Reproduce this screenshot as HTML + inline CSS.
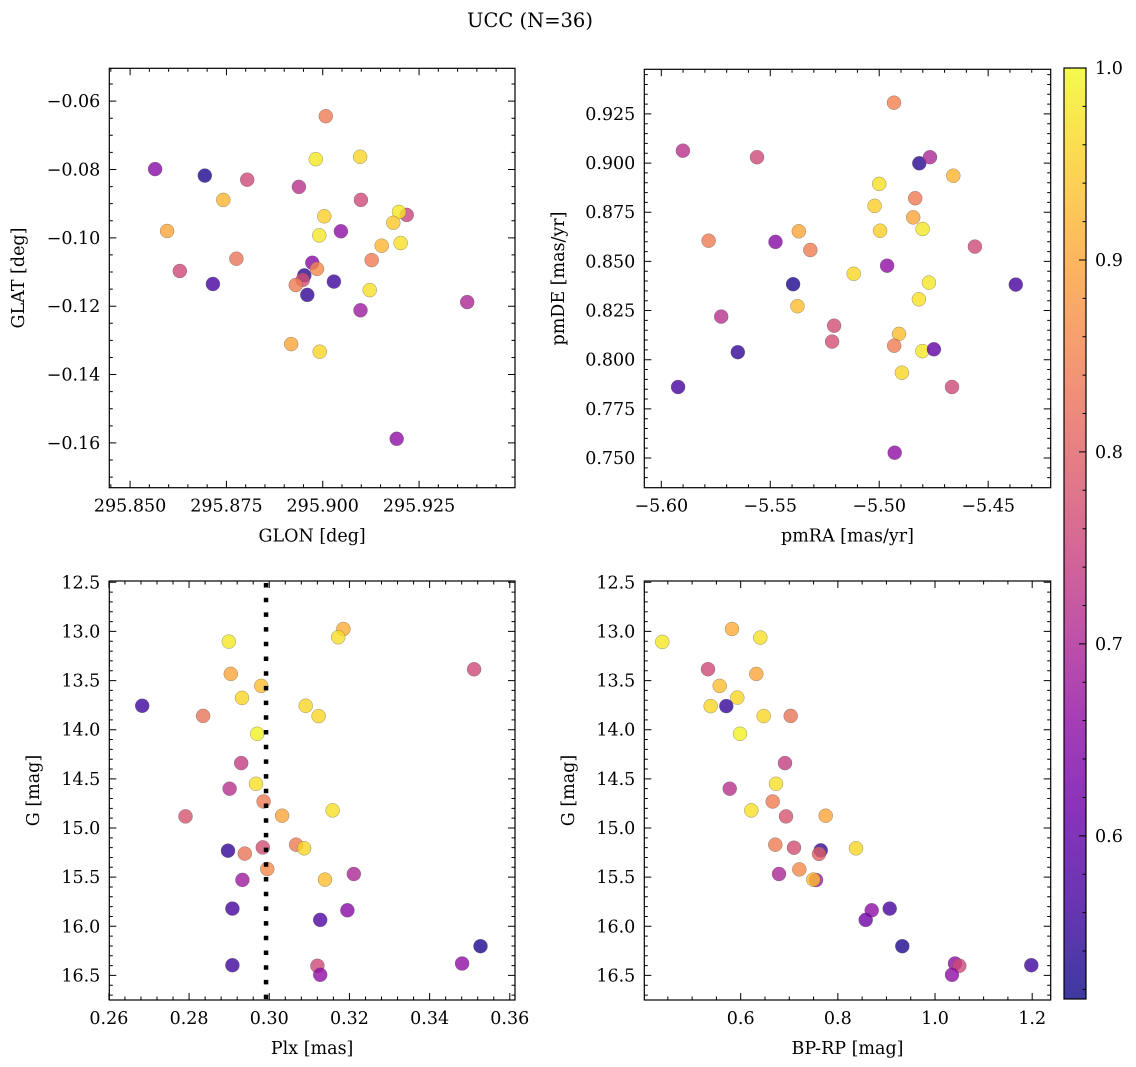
<!DOCTYPE html>
<html><head><meta charset="utf-8"><style>
html,body{margin:0;padding:0;background:#fff;}
svg{display:block;font-family:"DejaVu Serif","Liberation Serif",serif;}
</style></head>
<body>
<svg id="fig" width="1136" height="1067" viewBox="0 0 1136 1067" xmlns="http://www.w3.org/2000/svg">
<defs>
<linearGradient id="plasmaGrad" x1="0" y1="1" x2="0" y2="0">
<stop offset="0" stop-color="#0d0887"/><stop offset="0.1" stop-color="#41049d"/><stop offset="0.2" stop-color="#6a00a8"/><stop offset="0.3" stop-color="#8f0da4"/><stop offset="0.4" stop-color="#b12a90"/><stop offset="0.5" stop-color="#cc4778"/><stop offset="0.6" stop-color="#e16462"/><stop offset="0.7" stop-color="#f2844b"/><stop offset="0.8" stop-color="#fca636"/><stop offset="0.9" stop-color="#fcce25"/><stop offset="1" stop-color="#f0f921"/>
</linearGradient>
</defs>
<text x="530" y="27" font-size="19.5" text-anchor="middle">UCC (N=36)</text>
</svg>
<script>
// ---- data ----
const glon = [295.8565,295.8694,295.8804,295.8938,295.8742,295.8596,295.8629,295.8715,295.8776,295.9008,295.8982,295.9097,295.9099,295.9004,295.8991,295.9047,295.9218,295.9198,295.9183,295.9202,295.9153,295.9127,295.8973,295.8985,295.8952,295.8948,295.8930,295.8960,295.9029,295.9122,295.9098,295.8918,295.8992,295.9192,295.9375];
const glat = [-0.0799,-0.0818,-0.0830,-0.0851,-0.0889,-0.0980,-0.1097,-0.1135,-0.1061,-0.0644,-0.0770,-0.0763,-0.0889,-0.0937,-0.0993,-0.0981,-0.0933,-0.0924,-0.0956,-0.1015,-0.1023,-0.1065,-0.1073,-0.1091,-0.1110,-0.1123,-0.1138,-0.1167,-0.1128,-0.1153,-0.1212,-0.1311,-0.1333,-0.1588,-0.1188];
const prob1 = [0.65,0.53,0.76,0.72,0.92,0.90,0.76,0.57,0.83,0.84,0.98,0.96,0.76,0.95,0.98,0.66,0.75,0.98,0.94,0.97,0.92,0.84,0.65,0.86,0.54,0.77,0.84,0.55,0.56,0.97,0.68,0.90,0.96,0.66,0.70];

const pmra = [-5.5901,-5.5561,-5.4932,-5.4816,-5.4767,-5.4660,-5.5000,-5.5021,-5.4835,-5.4844,-5.4801,-5.4996,-5.5369,-5.5316,-5.5783,-5.5476,-5.4561,-5.4964,-5.5117,-5.5395,-5.4373,-5.4772,-5.4818,-5.5375,-5.5725,-5.5207,-5.5216,-5.4909,-5.4931,-5.4802,-5.4749,-5.5649,-5.4896,-5.4666,-5.5923,-5.4929];
const pmde = [0.9063,0.9030,0.9307,0.8999,0.9030,0.8936,0.8894,0.8782,0.8821,0.8724,0.8665,0.8656,0.8653,0.8558,0.8605,0.8599,0.8575,0.8478,0.8437,0.8384,0.8382,0.8392,0.8307,0.8272,0.8219,0.8173,0.8092,0.8131,0.8071,0.8044,0.8053,0.8038,0.7934,0.7861,0.7861,0.7527];
const prob2 = [0.72,0.76,0.85,0.54,0.70,0.92,0.97,0.95,0.84,0.90,0.98,0.95,0.90,0.84,0.84,0.65,0.76,0.66,0.96,0.53,0.57,0.98,0.97,0.93,0.72,0.77,0.77,0.93,0.84,0.98,0.60,0.55,0.96,0.76,0.57,0.66];

const plx = [0.2683,0.2835,0.2899,0.2904,0.2980,0.2932,0.3185,0.3172,0.3511,0.3091,0.3123,0.2970,0.2930,0.2967,0.2901,0.2986,0.3158,0.2791,0.3032,0.2897,0.2939,0.2984,0.3067,0.3087,0.2995,0.2933,0.3139,0.3211,0.2908,0.3195,0.3127,0.3527,0.3481,0.2908,0.3120,0.3127];
const gmag3 = [13.757,13.859,13.104,13.432,13.554,13.676,12.975,13.059,13.385,13.757,13.862,14.042,14.34,14.55,14.60,14.73,14.821,14.882,14.875,15.231,15.261,15.197,15.170,15.207,15.417,15.528,15.525,15.468,15.82,15.837,15.935,16.203,16.379,16.396,16.402,16.494];
const prob3 = [0.56,0.83,0.98,0.90,0.93,0.96,0.91,0.97,0.76,0.96,0.96,0.99,0.74,0.97,0.72,0.84,0.97,0.78,0.90,0.55,0.83,0.77,0.84,0.96,0.86,0.68,0.93,0.70,0.57,0.65,0.58,0.53,0.66,0.56,0.76,0.66];
const plxLine = [0.2992];

const bprp = [0.4386,0.5821,0.6403,0.5327,0.6321,0.5568,0.5930,0.5382,0.5704,0.6473,0.7029,0.5986,0.6912,0.6727,0.5774,0.6659,0.6218,0.6933,0.7750,0.6712,0.7097,0.7647,0.7612,0.8373,0.7207,0.6788,0.7550,0.7495,0.9067,0.8697,0.8573,0.9327,1.0411,1.1982,1.0500,1.0350];
const gmag4 = [13.107,12.975,13.063,13.384,13.432,13.554,13.673,13.760,13.760,13.862,13.859,14.042,14.34,14.55,14.60,14.73,14.821,14.882,14.875,15.170,15.200,15.228,15.264,15.207,15.421,15.468,15.529,15.525,15.82,15.837,15.935,16.203,16.379,16.396,16.402,16.494];
const prob4 = [0.98,0.91,0.97,0.76,0.90,0.93,0.96,0.96,0.55,0.96,0.83,0.99,0.74,0.97,0.72,0.84,0.97,0.78,0.90,0.84,0.77,0.55,0.80,0.96,0.86,0.70,0.68,0.93,0.57,0.66,0.62,0.53,0.66,0.56,0.76,0.66];

const ticks1x = [295.850,295.875,295.900,295.925];
const ticks1y = [-0.06,-0.08,-0.10,-0.12,-0.14,-0.16];
const ticks2x = [-5.60,-5.55,-5.50,-5.45];
const ticks2y = [0.750,0.775,0.800,0.825,0.850,0.875,0.900,0.925];
const ticks3x = [0.26,0.28,0.30,0.32,0.34,0.36];
const ticksG = [12.5,13.0,13.5,14.0,14.5,15.0,15.5,16.0,16.5];
const ticks4x = [0.6,0.8,1.0,1.2];
const cbarTicks = [0.6,0.7,0.8,0.9,1.0];
const cmin = 0.515, cmax = 1.0;

// ---- helpers ----
const NS = "http://www.w3.org/2000/svg";
const svg = document.getElementById('fig');
const FS = 17.5;
const stops = ["#0d0887","#41049d","#6a00a8","#8f0da4","#b12a90","#cc4778","#e16462","#f2844b","#fca636","#fcce25","#f0f921"];
function hex(h){return [1,3,5].map(i=>parseInt(h.substr(i,2),16));}
function plasma(t){
  t=Math.max(0,Math.min(1,t));
  const f=t*10, i=Math.min(9,Math.floor(f)), r=f-i;
  const a=hex(stops[i]), b=hex(stops[i+1]);
  return 'rgb('+a.map((v,k)=>Math.round(v+(b[k]-v)*r)).join(',')+')';
}
function el(tag, attrs, parent){
  const e=document.createElementNS(NS,tag);
  for(const k in attrs) e.setAttribute(k,attrs[k]);
  (parent||svg).appendChild(e);
  return e;
}
function fmt(v,d){return (v<0?'\u2212':'')+Math.abs(v).toFixed(d);}
function range(a,b,s){const r=[];for(let v=a;v<=b+1e-9;v+=s)r.push(v);return r;}

function panel(cfg){
  const g=el('g',{});
  
  
  const {L,R,T,B}=cfg;
  const sx=v=>L+(v-cfg.x0)/(cfg.x1-cfg.x0)*(R-L);
  const sy=cfg.invert ? (v=>T+(v-cfg.y0)/(cfg.y1-cfg.y0)*(B-T)) : (v=>B-(v-cfg.y0)/(cfg.y1-cfg.y0)*(B-T));
  const ymin=Math.min(cfg.y0,cfg.y1), ymax=Math.max(cfg.y0,cfg.y1);
  const pg=el('g',{},g);
  
  
  for(let i=0;i<cfg.xs.length;i++){
    const c=el('circle',{cx:sx(cfg.xs[i]).toFixed(1),cy:sy(cfg.ys[i]).toFixed(1),r:7,fill:plasma((cfg.cs[i]-cmin)/(cmax-cmin)),'fill-opacity':0.8,stroke:'#555','stroke-width':0.5,'stroke-opacity':0.6},pg);
    
    
  }
  if(cfg.vline){
    const ln=el('line',{x1:sx(cfg.vline[0]),x2:sx(cfg.vline[0]),y1:T+2,y2:B,stroke:'#000','stroke-width':4.5,'stroke-dasharray':'4.5 10.2'},g);
    
    
  }
  const fr=el('rect',{x:L,y:T,width:R-L,height:B-T,fill:'none',stroke:'#000','stroke-width':1.2},g);
  
  
  let d='';
  range(Math.ceil((Math.min(cfg.x0,cfg.x1))/cfg.xm-1e-6)*cfg.xm, Math.max(cfg.x0,cfg.x1), cfg.xm).forEach(v=>{const x=sx(v);if(x<L+0.5||x>R-0.5)return;d+=`M${x} ${B}v-3.5M${x} ${T}v3.5`;});
  range(Math.ceil(ymin/cfg.ym-1e-6)*cfg.ym, ymax, cfg.ym).forEach(v=>{const y=sy(v);if(y<T+0.5||y>B-0.5)return;d+=`M${L} ${y}h3.5M${R} ${y}h-3.5`;});
  cfg.xt.forEach(v=>{const x=sx(v);d+=`M${x} ${B}v-7M${x} ${T}v7`;});
  cfg.yt.forEach(v=>{const y=sy(v);d+=`M${L} ${y}h7M${R} ${y}h-7`;});
  el('path',{d:d,stroke:'#000','stroke-width':1,fill:'none'},g);
  cfg.xt.forEach(v=>{
    const t=el('text',{x:sx(v),y:B+24,'font-size':FS,'text-anchor':'middle'},g);
    t.textContent=fmt(v,cfg.xd);
    
    
  });
  cfg.yt.forEach(v=>{
    const t=el('text',{x:L-9,y:sy(v)+6,'font-size':FS,'text-anchor':'end'},g);
    t.textContent=fmt(v,cfg.yd);
    
    
  });
  const xl=el('text',{x:(L+R)/2,y:B+54,'font-size':FS,'text-anchor':'middle'},g);
  xl.textContent=cfg.xlabel;
  
  
  const yx=cfg.ylx, yy=(T+B)/2;
  const yl=el('text',{x:yx,y:yy,'font-size':FS,'text-anchor':'middle',transform:`rotate(-90 ${yx} ${yy})`},g);
  yl.textContent=cfg.ylabel;
  
  
}

panel({name:'glon-glat-panel',L:109.3,R:515,T:68.3,B:487.7,x0:295.8446,x1:295.9499,y0:-0.1731,y1:-0.0504,
  xs:glon,ys:glat,cs:prob1,xt:ticks1x,yt:ticks1y,xm:0.005,ym:0.005,xd:3,yd:2,xlabel:'GLON [deg]',ylabel:'GLAT [deg]',ylx:24});
panel({name:'proper-motion-panel',L:644.3,R:1050.7,T:69.3,B:487.7,x0:-5.6078,x1:-5.4213,y0:0.7349,y1:0.9477,
  xs:pmra,ys:pmde,cs:prob2,xt:ticks2x,yt:ticks2y,xm:0.01,ym:0.005,xd:2,yd:3,xlabel:'pmRA [mas/yr]',ylabel:'pmDE [mas/yr]',ylx:564});
panel({name:'plx-g-panel',L:109.3,R:515,T:581,B:1000,x0:0.2601,x1:0.3613,y0:12.487,y1:16.75,invert:true,vline:plxLine,
  xs:plx,ys:gmag3,cs:prob3,xt:ticks3x,yt:ticksG,xm:0.004,ym:0.1,xd:2,yd:1,xlabel:'Plx [mas]',ylabel:'G [mag]',ylx:39});
panel({name:'cmd-panel',L:644.3,R:1050.7,T:581,B:1000,x0:0.4016,x1:1.2381,y0:12.487,y1:16.75,invert:true,
  xs:bprp,ys:gmag4,cs:prob4,xt:ticks4x,yt:ticksG,xm:0.05,ym:0.1,xd:1,yd:1,xlabel:'BP-RP [mag]',ylabel:'G [mag]',ylx:574});

(function(){
  const L=1064,R=1086,T=68,B=999;
  const cg=el('g',{});
  
  
  el('rect',{x:L,y:T,width:R-L,height:B-T,fill:'url(#plasmaGrad)','fill-opacity':0.8},cg);
  el('rect',{x:L,y:T,width:R-L,height:B-T,fill:'none',stroke:'#000','stroke-width':1.2},cg);
  const sy=v=>B-(v-cmin)/(cmax-cmin)*(B-T);
  let d='';
  range(0.52,1.0,0.02).forEach(v=>{d+=`M${R} ${sy(v)}h-3.5`;});
  cbarTicks.forEach(v=>{d+=`M${R} ${sy(v)}h-7`;});
  el('path',{d:d,stroke:'#000','stroke-width':1},cg);
  cbarTicks.forEach(v=>{
    const t=el('text',{x:R+9,y:sy(v)+6,'font-size':FS},cg);
    t.textContent=v.toFixed(1);
    
    
  });
})();
</script>
</body></html>
